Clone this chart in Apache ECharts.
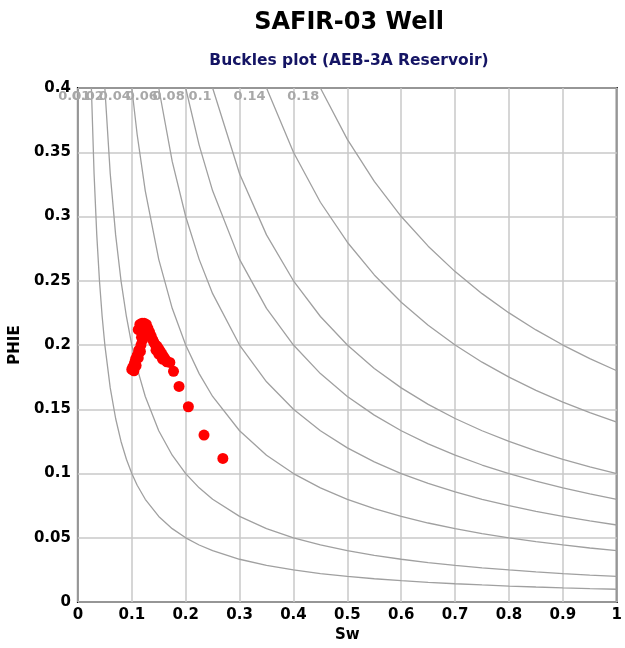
<!DOCTYPE html>
<html>
<head>
<meta charset="utf-8">
<script src="https://cdn.jsdelivr.net/npm/echarts@6/dist/echarts.min.js"></script>
<style>html,body{margin:0;padding:0;background:#fff}#c{width:625px;height:648px}</style>
</head>
<body>
<div id="c"></div>
<script>
// Buckles constants (PHIE * Sw)
var bvConstants = [0.01, 0.02, 0.04, 0.06, 0.08, 0.1, 0.14, 0.18];
var bvLabels = ['0.01', '0.02', '0.04', '0.06', '0.08', '0.1', '0.14', '0.18'];
// Sw sample positions along each curve
var swSamples = [0.02, 0.025, 0.03, 0.035, 0.04, 0.045, 0.05, 0.06, 0.07, 0.08, 0.09, 0.1, 0.11, 0.125, 0.15, 0.175, 0.2, 0.225, 0.25, 0.3, 0.35, 0.4, 0.45, 0.5, 0.55, 0.6, 0.65, 0.7, 0.75, 0.8, 0.85, 0.9, 0.95, 1.0];
// Data points (Sw, PHIE)
var swData = [0.112,0.115,0.119,0.123,0.127,0.130,0.133,0.126,0.120,0.136,0.123,
  0.139,0.141,0.144,0.147,0.150,0.153,0.156,0.159,0.162,0.165,0.145,0.150,0.157,
  0.120,0.117,0.113,0.110,0.107,0.105,0.102,0.100,0.104,0.108,0.112,0.116,0.118,
  0.1706,0.1774,0.1877,0.205,0.234,0.269];
var phieData = [0.212,0.216,0.217,0.217,0.216,0.213,0.210,0.211,0.212,0.207,0.207,
  0.204,0.202,0.200,0.199,0.197,0.195,0.193,0.191,0.189,0.187,0.196,0.193,0.189,
  0.204,0.200,0.196,0.192,0.189,0.186,0.183,0.181,0.180,0.184,0.190,0.195,0.206,
  0.1865,0.1796,0.1678,0.152,0.130,0.1118];

var yMax = 0.4;
var series = [];
bvConstants.forEach(function (c, i) {
  var start = c / yMax;
  var pts = [[start, yMax]];
  swSamples.forEach(function (s) { if (s > start + 1e-9) pts.push([s, c / s]); });
  series.push({
    type: 'line', data: pts, showSymbol: false, symbol: 'none', smooth: false,
    lineStyle: { color: '#a0a0a0', width: 1.3 }, silent: true, z: 1,
    markPoint: {
      symbol: 'circle', symbolSize: 0,
      data: [{ coord: [start, yMax], value: bvLabels[i] }],
      label: { show: true, position: 'left', distance: 1, offset: [0, 9], color: '#a8a8a8',
        fontFamily: 'DejaVu Sans', fontWeight: 'bold', fontSize: 13, formatter: bvLabels[i] }
    }
  });
});
series.push({
  type: 'scatter', data: swData.map(function (s, i) { return [s, phieData[i]]; }),
  symbol: 'circle', symbolSize: 11, itemStyle: { color: '#ff0000', opacity: 1 }, z: 5
});

var chart = echarts.init(document.getElementById('c'));
chart.setOption({
  animation: false,
  backgroundColor: '#fff',
  title: [
    { text: 'SAFIR-03 Well', left: 344, top: 6, textAlign: 'center',
      textStyle: { fontFamily: 'DejaVu Sans', fontWeight: 'bold', fontSize: 24, color: '#000' } },
    { text: 'Buckles plot (AEB-3A Reservoir)', left: 344, top: 48, textAlign: 'center',
      textStyle: { fontFamily: 'DejaVu Sans', fontWeight: 'bold', fontSize: 15.5, color: '#141464' } }
  ],
  grid: { left: 71, right: 7, top: 88, bottom: 41, show: true, borderColor: '#000', borderWidth: 2, containLabel: false },
  xAxis: {
    type: 'value', min: 0, max: 1, interval: 0.1,
    name: 'Sw', nameLocation: 'middle', nameGap: 20,
    nameTextStyle: { fontFamily: 'DejaVu Sans', fontWeight: 'bold', fontSize: 15, color: '#000' },
    axisLine: { show: false }, axisTick: { show: false },
    axisLabel: { fontFamily: 'DejaVu Sans', fontWeight: 'bold', fontSize: 15, color: '#000', margin: 6 },
    splitLine: { show: true, lineStyle: { color: '#c8c8c8', width: 1.5 } }
  },
  yAxis: {
    type: 'value', min: 0, max: 0.4, interval: 0.05,
    name: 'PHIE', nameLocation: 'middle', nameGap: 45, nameRotate: 90,
    nameTextStyle: { fontFamily: 'DejaVu Sans', fontWeight: 'bold', fontSize: 15, color: '#000' },
    axisLine: { show: false }, axisTick: { show: false },
    axisLabel: { fontFamily: 'DejaVu Sans', fontWeight: 'bold', fontSize: 15, color: '#000', margin: 7 },
    splitLine: { show: true, lineStyle: { color: '#c8c8c8', width: 1.5 } }
  },
  series: series
});
</script>
</body>
</html>
